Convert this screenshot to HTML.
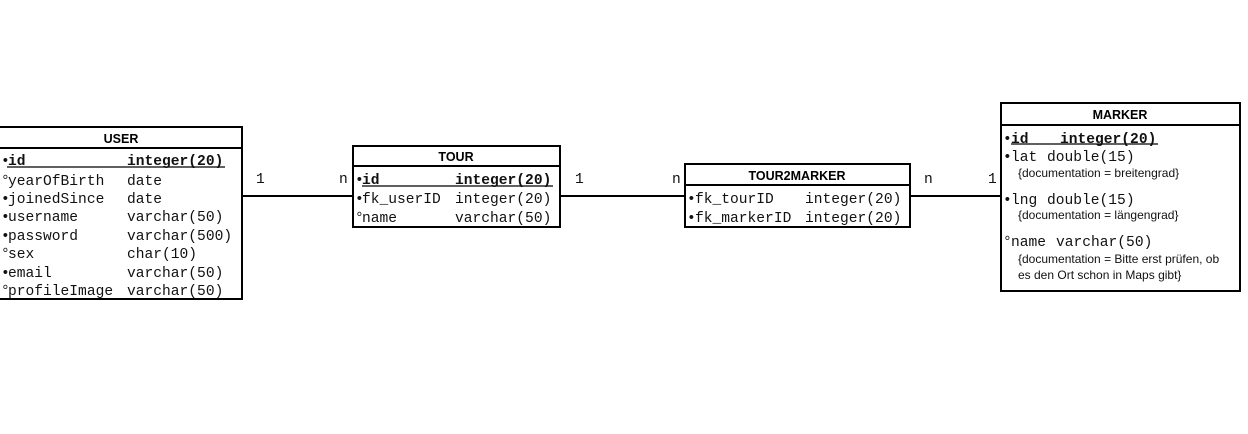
<!DOCTYPE html>
<html><head><meta charset="utf-8"><style>
html,body{margin:0;padding:0;background:#fff;}
svg text{font-family:"Liberation Mono","Courier New",Courier,monospace;font-size:14.6px;fill:#111;}
svg text.h{font-family:"Liberation Sans",Arial,sans-serif;font-weight:bold;font-size:12.5px;fill:#000;}
svg text.d{font-family:"Liberation Sans",Arial,sans-serif;font-size:12px;}
</style></head><body>
<svg width="1248" height="429" viewBox="0 0 1248 429" xmlns="http://www.w3.org/2000/svg">
<g stroke="#000" stroke-width="2" fill="none">
<rect x="-2" y="127" width="244" height="172"/><line x1="-2" y1="148" x2="242" y2="148"/>
<rect x="353" y="146" width="207" height="81"/><line x1="353" y1="166" x2="560" y2="166"/>
<rect x="685" y="164" width="225" height="63"/><line x1="685" y1="185" x2="910" y2="185"/>
<rect x="1001" y="103" width="239" height="188"/><line x1="1001" y1="125" x2="1240" y2="125"/>
<line x1="242" y1="196" x2="353" y2="196"/>
<line x1="560" y1="196" x2="685" y2="196"/>
<line x1="910" y1="196" x2="1001" y2="196"/>
</g>
<g stroke="#000" stroke-width="1.2">
<line x1="7" y1="167" x2="225" y2="167"/>
<line x1="362" y1="186" x2="553" y2="186"/>
<line x1="1011" y1="144" x2="1158" y2="144"/>
</g>
<text class="h" x="121" y="143" text-anchor="middle">USER</text>
<text class="h" x="456" y="161" text-anchor="middle">TOUR</text>
<text class="h" x="797" y="180" text-anchor="middle">TOUR2MARKER</text>
<text class="h" x="1120" y="119" text-anchor="middle">MARKER</text>
<!-- USER -->
<text x="1" y="165">•<tspan x="8" font-weight="bold">id</tspan><tspan x="127" font-weight="bold">integer(20)</tspan></text>
<text x="1" y="185">°<tspan x="8">yearOfBirth</tspan><tspan x="127">date</tspan></text>
<text x="1" y="203">•<tspan x="8">joinedSince</tspan><tspan x="127">date</tspan></text>
<text x="1" y="221">•<tspan x="8">username</tspan><tspan x="127">varchar(50)</tspan></text>
<text x="1" y="240">•<tspan x="8">password</tspan><tspan x="127">varchar(500)</tspan></text>
<text x="1" y="258">°<tspan x="8">sex</tspan><tspan x="127">char(10)</tspan></text>
<text x="1" y="277">•<tspan x="8">email</tspan><tspan x="127">varchar(50)</tspan></text>
<text x="1" y="295">°<tspan x="8">profileImage</tspan><tspan x="127">varchar(50)</tspan></text>
<!-- TOUR -->
<text x="355" y="184">•<tspan x="362" font-weight="bold">id</tspan><tspan x="455" font-weight="bold">integer(20)</tspan></text>
<text x="355" y="203">•<tspan x="362">fk_userID</tspan><tspan x="455">integer(20)</tspan></text>
<text x="355" y="222">°<tspan x="362">name</tspan><tspan x="455">varchar(50)</tspan></text>
<!-- TOUR2MARKER -->
<text x="687" y="203">•<tspan x="695">fk_tourID</tspan><tspan x="805">integer(20)</tspan></text>
<text x="687" y="222">•<tspan x="695">fk_markerID</tspan><tspan x="805">integer(20)</tspan></text>
<!-- MARKER -->
<text x="1003" y="143">•<tspan x="1011" font-weight="bold">id</tspan><tspan x="1060" font-weight="bold">integer(20)</tspan></text>
<text x="1003" y="161">•<tspan x="1011">lat</tspan><tspan x="1047">double(15)</tspan></text>
<text class="d" x="1018" y="177">{documentation = breitengrad}</text>
<text x="1003" y="204">•<tspan x="1011">lng</tspan><tspan x="1047">double(15)</tspan></text>
<text class="d" x="1018" y="219">{documentation = längengrad}</text>
<text x="1003" y="246">°<tspan x="1011">name</tspan><tspan x="1056">varchar(50)</tspan></text>
<text class="d" x="1018" y="263">{documentation = Bitte erst prüfen, ob</text>
<text class="d" x="1018" y="279">es den Ort schon in Maps gibt}</text>
<!-- multiplicities -->
<text x="256" y="183">1</text>
<text x="339" y="183">n</text>
<text x="575" y="183">1</text>
<text x="672" y="183">n</text>
<text x="924" y="183">n</text>
<text x="988" y="183">1</text>
</svg>
</body></html>
